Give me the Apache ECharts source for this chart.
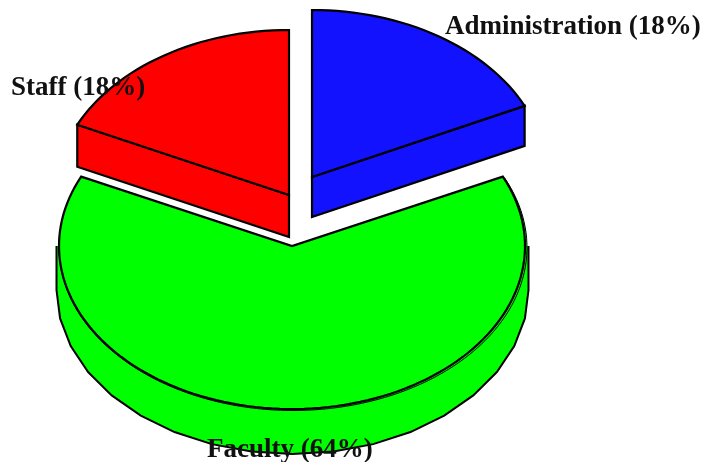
<!DOCTYPE html>
<html>
<head>
<meta charset="utf-8">
<style>html,body{margin:0;padding:0;background:#fff}#c{width:701px;height:462px}</style>
<script src="https://cdn.jsdelivr.net/npm/echarts@6/dist/echarts.min.js"></script>
</head>
<body>
<div id="c"></div>
<script>
// Data
const categories = ['Faculty', 'Staff', 'Administration'];
const shares = [64, 18, 18];

// Styling and layout, in chart pixels
const colors = ['#00ff00', '#ff0000', '#1212ff'];
const centers = [[292, 246], [289, 195], [312, 177]];
const radiiX = [233, 234, 235];
const radiiY = [163, 165, 167];
const depths = [42, 42, 40];
const labelAt = [[207, 450], [11, 88], [445, 27]];

const total = shares.reduce((a, b) => a + b, 0);
const startDeg = shares[shares.length - 1] / total * 360;
const ink = '#000';

function rim(cx, cy, rx, ry, from, to, step) {
  const out = [];
  const n = Math.max(1, Math.round((to - from) / step));
  for (let k = 0; k <= n; k++) {
    const a = (from + (to - from) * k / n) * Math.PI / 180;
    out.push([cx + rx * Math.sin(a), cy - ry * Math.cos(a)]);
  }
  return out;
}

function renderItem(params, api) {
  const i = params.dataIndex;
  const before = shares.slice(0, i).reduce((a, b) => a + b, 0);
  const a0 = startDeg + before / total * 360;
  const a1 = a0 + api.value(1) / total * 360;
  const [cx, cy] = centers[i];
  const RX = radiiX[i], RY = radiiY[i], DEPTH = depths[i];
  const color = colors[i];
  const P = pts => pts.map(p => api.coord(p));
  const kids = [];
  const poly = (pts, stroke, w) => kids.push({
    type: 'polygon', shape: { points: P(pts) },
    style: { fill: color, stroke: stroke || null, lineWidth: w || 0, lineJoin: 'miter' }
  });
  const line = (pts, w) => kids.push({
    type: 'polyline', shape: { points: P(pts) },
    style: { fill: null, stroke: ink, lineWidth: w }
  });

  const apex = [cx, cy];
  const arc = rim(cx, cy, RX, RY, a0, a1, 2);

  if (a1 - a0 > 180) {
    // large slice: faceted outer wall seen in front
    const wall = rim(cx + 0.5, cy + DEPTH + 2, RX + 3, RY + 1, 90, 270, 10);
    const left = wall[wall.length - 1], right = wall[0];
    const outline = [[right[0], cy]].concat(wall, [[left[0], cy]]);
    poly(outline);
    line(outline, 2);
    // soft second edge on the top face
    kids.push({
      type: 'polygon',
      shape: { points: P(rim(cx + 1, cy + 1.5, RX + 1, RY, a0, a1, 2).concat([apex])) },
      style: { fill: color, stroke: ink, lineWidth: 1 }
    });
  } else {
    // cut face of an exploded slice
    const rimPt = a0 >= 360 ? arc[arc.length - 1] : arc[0];
    poly([apex, rimPt, [rimPt[0], rimPt[1] + DEPTH], [cx, cy + DEPTH]], ink, 2.2);
  }
  poly(arc.concat([apex]), ink, 2.2);

  kids.push({
    type: 'text', z2: 50,
    style: {
      text: categories[i] + ' (' + api.value(1) + '%)',
      x: api.coord(labelAt[i])[0], y: api.coord(labelAt[i])[1],
      fill: '#111', font: 'bold 27px "Liberation Serif"',
      textAlign: 'left', textVerticalAlign: 'middle'
    }
  });
  return { type: 'group', children: kids };
}

const chart = echarts.init(document.getElementById('c'), null, { renderer: 'canvas' });
chart.setOption({
  animation: false,
  backgroundColor: '#fff',
  grid: { left: 0, right: 0, top: 0, bottom: 0 },
  xAxis: { type: 'value', min: 0, max: 701, show: false },
  yAxis: { type: 'value', min: 0, max: 462, inverse: true, show: false },
  series: [{
    type: 'custom',
    coordinateSystem: 'cartesian2d',
    clip: false,
    silent: true,
    renderItem,
    encode: { x: 0, y: 1 },
    data: categories.map((name, i) => ({ name, value: [i, shares[i]] }))
  }]
});
</script>
</body>
</html>
